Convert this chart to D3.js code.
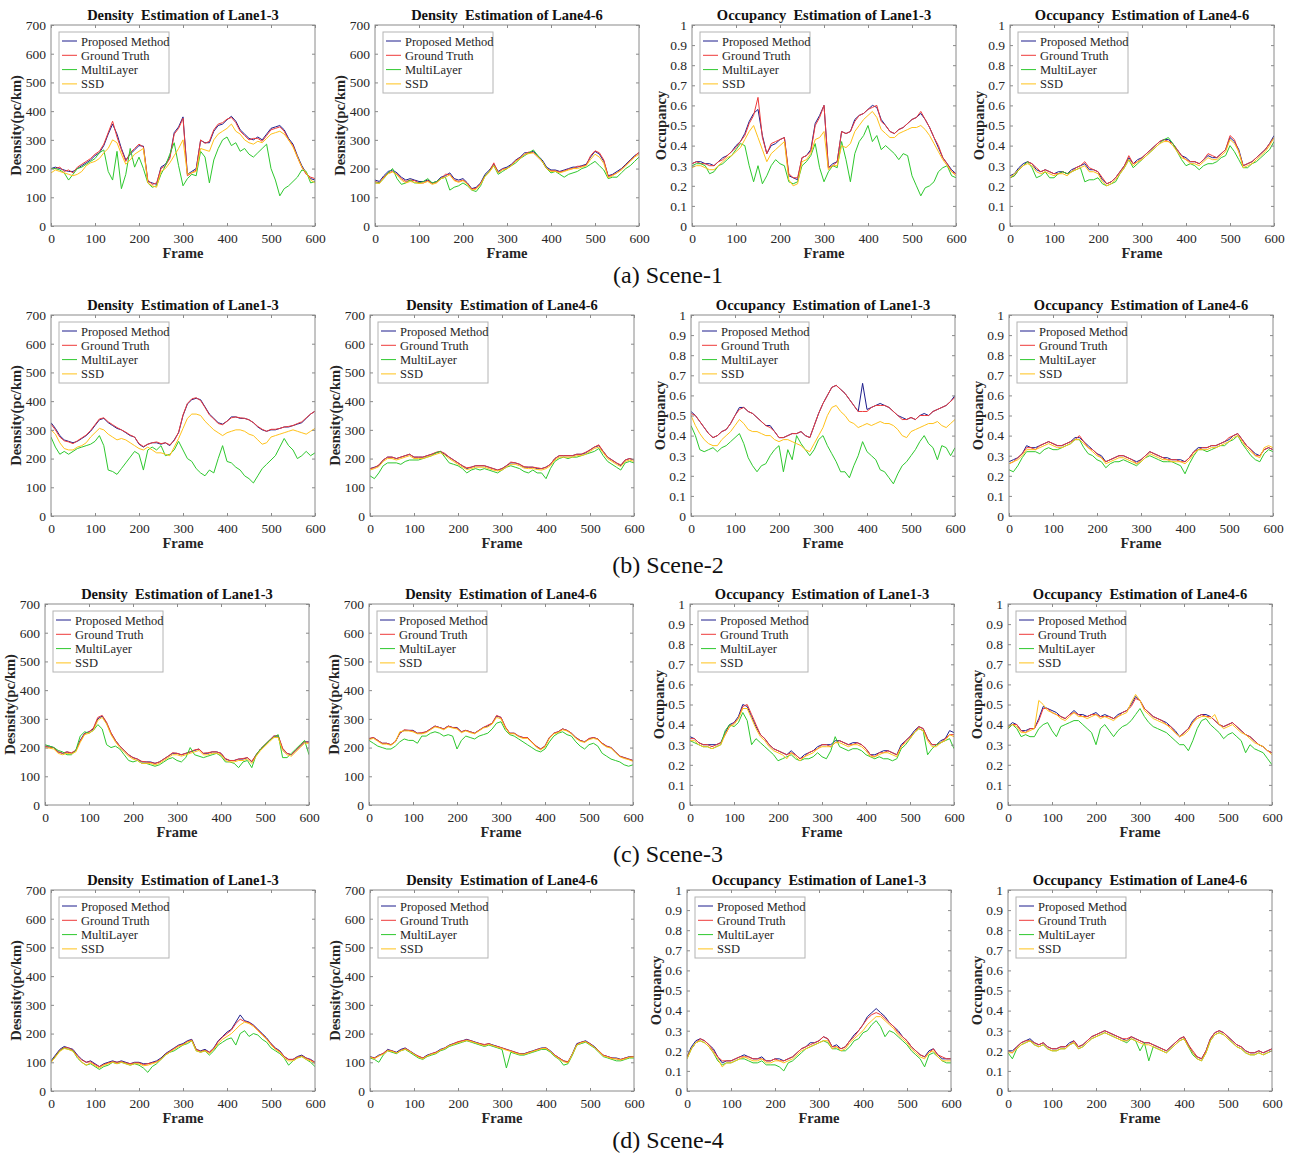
<!DOCTYPE html>
<html>
<head>
<meta charset="utf-8">
<script src="https://cdn.jsdelivr.net/npm/d3@7"></script>
<style>
body { margin: 0; background: #fff; }
text { font-family: "Liberation Serif", "Times New Roman", serif; }
</style>
</head>
<body>
<svg id="chart"></svg>
<script>
const WIDTH = 1293, HEIGHT = 1157;

// frame grid the values below were read at
const frames = d3.range(0, 601, 10);
const frameTicks = [0, 100, 200, 300, 400, 500, 600];
const densTicks = [0, 100, 200, 300, 400, 500, 600, 700];
const occTicks = [0, 0.1, 0.2, 0.3, 0.4, 0.5, 0.6, 0.7, 0.8, 0.9, 1];

const legendNames = ['Proposed Method', 'Ground Truth', 'MultiLayer', 'SSD'];
const titles = ['Density  Estimation of Lane1-3', 'Density  Estimation of Lane4-6',
                'Occupancy  Estimation of Lane1-3', 'Occupancy  Estimation of Lane4-6'];
const sceneLabels = ['(a) Scene-1', '(b) Scene-2', '(c) Scene-3', '(d) Scene-4'];

// ---- Scene-1 ----
const s1_d13_prop = [200,205,200,195,190,190,200,210,220,230, 245,255,280,320,355,320,270,230,250,265, 280,278,155,150,145,205,215,240,325,345, 380,180,190,200,298,290,290,330,350,355, 370,382,365,335,320,305,300,310,300,320, 340,345,350,335,305,285,245,210,185,165, 160];
const s1_d13_gt   = [200,200,205,190,195,185,205,215,225,235, 250,260,285,325,365,310,265,225,255,270, 285,275,160,145,150,200,210,235,320,340, 375,175,185,195,300,288,295,335,355,360, 372,378,360,330,315,300,305,305,295,315, 335,340,345,330,300,280,240,205,180,170, 165];
const s1_d13_ml   = [200,200,195,185,160,180,200,205,215,225, 235,255,265,190,160,260,130,180,270,205, 240,200,150,135,140,180,210,250,290,210, 140,165,180,175,260,240,150,230,270,300, 310,280,290,260,270,250,240,255,270,285, 200,160,105,130,140,155,170,195,190,150, 155];
const s1_d13_ssd  = [185,195,190,185,180,175,180,190,210,220, 225,235,255,270,300,290,250,215,230,250, 260,270,150,140,135,190,200,220,245,270, 300,180,185,190,270,265,260,300,320,330, 340,355,330,320,300,290,285,295,290,305, 320,325,330,320,300,275,240,205,185,160, 150];

const s1_d46_prop = [160,155,175,190,195,185,170,160,165,160, 155,155,160,150,155,170,175,185,165,160, 165,150,130,135,150,180,195,215,190,200, 205,215,230,240,255,255,260,245,230,205, 195,195,190,195,200,205,205,210,215,240, 260,250,225,175,180,190,200,215,230,245, 255];
const s1_d46_gt   = [155,150,170,185,190,180,165,155,160,158, 150,150,158,148,152,165,180,180,160,155, 160,148,128,132,148,175,190,220,185,198, 200,212,228,238,250,258,255,240,225,200, 192,192,188,192,198,200,208,208,212,245, 262,255,230,172,178,185,198,212,228,242, 258];
const s1_d46_ml   = [150,150,165,185,200,165,145,150,160,150, 150,155,165,150,155,165,170,125,135,140, 150,140,125,120,140,175,190,210,180,190, 200,210,220,235,245,255,265,245,225,200, 185,190,180,170,180,185,190,200,205,215, 225,210,195,165,170,170,185,200,210,225, 240];
const s1_d46_ssd  = [150,148,168,182,188,178,160,150,155,152, 148,150,155,145,150,165,170,178,158,152, 158,145,125,128,145,172,188,210,185,195, 200,210,225,235,250,252,255,242,225,200, 190,190,185,190,195,200,200,205,210,232, 250,240,218,168,175,185,195,210,225,240, 250];

const s1_o13_prop = [.31,.32,.32,.31,.31,.30,.32,.34,.35,.37, .40,.42,.46,.52,.56,.58,.45,.36,.40,.41, .43,.44,.25,.24,.23,.34,.35,.38,.51,.55, .60,.29,.31,.32,.47,.46,.47,.53,.55,.56, .58,.60,.59,.53,.50,.47,.46,.48,.49,.51, .53,.54,.56,.53,.49,.44,.39,.34,.31,.28, .26];
const s1_o13_gt   = [.31,.32,.31,.31,.30,.30,.32,.33,.35,.37, .39,.42,.45,.51,.55,.64,.44,.36,.41,.42, .43,.44,.26,.24,.24,.34,.35,.37,.50,.54, .60,.29,.30,.32,.47,.46,.47,.52,.55,.56, .58,.59,.60,.52,.50,.47,.46,.48,.49,.51, .53,.54,.57,.53,.49,.44,.40,.34,.31,.27, .26];
const s1_o13_ml   = [.30,.31,.31,.30,.26,.27,.30,.31,.33,.35, .38,.41,.40,.30,.22,.30,.21,.25,.30,.33, .31,.30,.22,.21,.22,.30,.32,.35,.41,.29, .22,.27,.30,.29,.42,.33,.22,.36,.42,.45, .50,.42,.45,.38,.40,.38,.36,.33,.36,.35, .25,.20,.15,.19,.20,.22,.27,.29,.30,.25, .24];
const s1_o13_ssd  = [.29,.30,.30,.29,.28,.28,.30,.32,.34,.35, .37,.39,.43,.47,.50,.44,.38,.32,.36,.38, .40,.42,.23,.20,.21,.32,.33,.36,.43,.44, .47,.28,.30,.30,.40,.39,.41,.47,.50,.53, .55,.57,.54,.48,.46,.44,.44,.46,.47,.48, .49,.49,.50,.48,.45,.41,.37,.33,.30,.27, .25];

const s1_o46_prop = [.25,.26,.29,.31,.32,.31,.28,.27,.28,.27, .26,.27,.27,.26,.28,.29,.30,.31,.28,.28, .27,.23,.21,.22,.24,.27,.30,.34,.31,.33, .34,.36,.38,.40,.42,.43,.43,.41,.38,.35, .34,.32,.32,.31,.33,.35,.34,.34,.36,.38, .44,.42,.38,.30,.31,.32,.34,.36,.38,.41, .45];
const s1_o46_gt   = [.24,.25,.28,.30,.32,.31,.29,.27,.28,.27, .26,.26,.27,.26,.27,.29,.30,.32,.29,.28, .27,.24,.21,.22,.24,.27,.30,.35,.31,.32, .34,.36,.38,.40,.42,.43,.42,.41,.38,.35, .33,.32,.32,.31,.33,.36,.35,.34,.36,.38, .45,.43,.37,.30,.31,.32,.34,.36,.38,.41, .44];
const s1_o46_ml   = [.24,.25,.28,.30,.32,.29,.24,.25,.27,.24, .24,.26,.27,.26,.27,.28,.29,.22,.23,.23, .24,.21,.20,.21,.22,.26,.29,.33,.29,.31, .33,.35,.37,.39,.41,.43,.44,.41,.37,.33, .30,.31,.30,.28,.30,.31,.31,.32,.34,.35, .40,.37,.33,.29,.29,.31,.32,.34,.36,.38, .42];
const s1_o46_ssd  = [.24,.26,.28,.30,.31,.30,.27,.26,.27,.26, .25,.26,.26,.25,.27,.28,.29,.30,.27,.27, .26,.22,.20,.21,.23,.26,.29,.33,.30,.32, .33,.35,.37,.39,.41,.42,.42,.40,.37,.34, .33,.31,.31,.30,.32,.34,.33,.33,.35,.37, .43,.41,.37,.29,.30,.31,.33,.35,.37,.40, .44];

// ---- Scene-2 ----
const s2_d13_prop = [325,305,280,265,260,255,260,270,280,295, 315,335,340,325,315,305,300,290,280,275, 250,240,250,255,255,250,255,245,265,290, 350,390,405,410,405,380,355,340,325,320, 330,345,345,340,340,335,325,310,300,295, 300,300,305,310,310,315,320,325,340,355, 365];
const s2_d13_gt   = [320,300,275,262,258,252,262,272,282,298, 318,338,342,328,318,308,300,292,282,275, 252,242,250,255,258,252,255,248,262,292, 352,392,408,412,402,378,352,338,322,318, 330,342,345,342,340,335,325,312,302,295, 302,302,305,310,312,315,322,328,342,355, 365];
const s2_d13_ml   = [275,240,215,225,215,225,235,240,245,250, 260,280,245,160,155,145,165,185,205,225, 215,160,230,240,230,245,210,215,230,260, 230,200,190,165,150,140,160,150,200,245, 190,185,170,160,140,130,115,140,165,180, 195,210,240,270,245,230,200,210,225,210, 220];
const s2_d13_ssd  = [300,285,255,235,230,230,240,245,255,275, 290,305,300,285,275,265,270,265,255,245, 235,230,240,230,220,220,215,210,240,270, 305,340,355,355,350,330,315,300,290,280, 290,295,300,300,295,285,280,265,250,255, 275,280,285,290,295,300,295,290,285,295, 305];

const s2_d46_prop = [165,170,175,195,205,205,200,205,210,215, 205,205,205,210,215,220,225,215,205,195, 185,175,165,170,175,175,175,170,165,160, 165,175,185,185,180,170,170,170,165,165, 170,180,200,210,210,210,210,215,215,220, 230,240,245,225,205,195,185,175,195,200, 195];
const s2_d46_gt   = [165,168,178,195,205,205,200,205,210,215, 205,205,205,210,215,222,225,218,205,195, 185,175,168,170,175,175,175,170,165,160, 165,175,188,185,180,172,170,170,168,165, 170,180,200,210,210,210,210,215,215,222, 230,240,248,225,205,195,185,178,195,200, 195];
const s2_d46_ml   = [140,130,150,175,185,185,185,180,190,195, 195,195,200,205,210,220,225,205,185,180, 175,165,150,160,165,160,165,160,155,150, 160,170,175,170,165,155,150,160,150,150, 130,165,190,200,205,200,205,205,210,215, 220,225,235,210,190,180,170,160,185,190, 185];
const s2_d46_ssd  = [160,165,172,190,200,200,195,200,205,210, 200,200,200,205,210,215,220,212,200,190, 180,170,162,165,170,170,170,165,160,157, 160,170,180,180,175,167,165,165,162,160, 165,175,195,205,205,205,205,210,210,215, 225,235,240,220,200,190,180,172,190,195, 190];

const s2_o13_prop = [.52,.50,.47,.44,.41,.39,.40,.42,.43,.46, .50,.54,.54,.52,.51,.49,.47,.45,.45,.42, .39,.39,.40,.41,.41,.42,.40,.39,.45,.51, .56,.60,.64,.65,.63,.61,.58,.55,.52,.66, .53,.54,.55,.56,.55,.54,.52,.50,.49,.48, .49,.48,.50,.51,.50,.52,.53,.54,.55,.57, .60];
const s2_o13_gt   = [.51,.50,.47,.44,.41,.39,.40,.42,.43,.46, .50,.53,.54,.52,.51,.49,.47,.45,.44,.42, .39,.39,.40,.41,.41,.42,.40,.39,.45,.51, .56,.60,.64,.65,.63,.61,.58,.55,.52,.52, .52,.54,.55,.55,.55,.54,.52,.50,.48,.48, .49,.48,.50,.50,.50,.52,.53,.54,.55,.57, .59];
const s2_o13_ml   = [.45,.40,.33,.32,.33,.34,.32,.34,.35,.37, .39,.41,.36,.29,.25,.22,.25,.26,.30,.33, .35,.22,.33,.28,.40,.36,.33,.30,.33,.38, .40,.35,.31,.27,.22,.22,.19,.25,.30,.37, .32,.30,.28,.23,.22,.19,.16,.21,.25,.27, .30,.33,.37,.40,.36,.34,.28,.35,.34,.30, .34];
const s2_o13_ssd  = [.50,.45,.41,.38,.36,.35,.35,.38,.40,.42, .45,.48,.46,.43,.42,.42,.41,.40,.40,.38, .37,.38,.38,.37,.36,.35,.33,.32,.36,.40, .44,.50,.54,.55,.52,.50,.47,.46,.44,.45, .46,.45,.46,.47,.46,.46,.45,.43,.40,.39, .42,.43,.44,.45,.46,.46,.47,.45,.44,.46, .48];

const s2_o46_prop = [.27,.28,.29,.31,.35,.34,.34,.35,.36,.37, .36,.35,.35,.36,.37,.39,.39,.37,.35,.33, .31,.30,.27,.28,.29,.30,.30,.29,.28,.27, .28,.30,.32,.31,.30,.29,.29,.28,.28,.28, .27,.29,.32,.34,.34,.34,.35,.35,.36,.37, .38,.40,.41,.38,.35,.33,.31,.30,.33,.34, .33];
const s2_o46_gt   = [.26,.27,.29,.31,.34,.34,.33,.35,.36,.37, .36,.35,.35,.36,.37,.38,.40,.37,.34,.33, .31,.29,.27,.28,.29,.30,.30,.29,.28,.26, .28,.30,.32,.31,.30,.29,.28,.28,.28,.27, .27,.29,.32,.33,.34,.34,.35,.35,.36,.37, .39,.40,.41,.38,.35,.33,.30,.30,.33,.34, .33];
const s2_o46_ml   = [.23,.22,.25,.29,.32,.32,.32,.31,.33,.34, .33,.33,.34,.35,.36,.38,.38,.34,.31,.30, .28,.27,.24,.26,.27,.27,.28,.27,.26,.25, .27,.29,.30,.29,.28,.27,.27,.27,.26,.25, .21,.26,.30,.33,.33,.32,.33,.34,.35,.35, .37,.38,.40,.36,.33,.30,.28,.27,.31,.33, .32];
const s2_o46_ssd  = [.26,.27,.28,.30,.33,.33,.33,.34,.35,.36, .35,.34,.34,.35,.36,.38,.38,.36,.34,.32, .30,.29,.26,.27,.28,.29,.29,.28,.27,.26, .27,.29,.31,.30,.29,.28,.28,.27,.27,.27, .26,.28,.31,.33,.33,.33,.34,.34,.35,.36, .37,.39,.40,.37,.34,.32,.30,.29,.34,.35, .34];

// ---- Scene-3 ----
const s3_d13_prop = [205,205,200,185,180,185,180,190,225,250, 255,265,300,310,285,250,225,205,190,175, 165,160,150,150,150,145,150,160,170,180, 180,175,180,185,190,195,180,180,185,185, 180,160,155,155,160,160,165,150,175,195, 210,225,240,240,195,180,175,190,205,220, 220];
const s3_d13_gt   = [205,200,200,185,180,185,182,190,222,248, 255,268,305,312,288,252,225,205,190,175, 165,160,152,150,148,145,150,160,170,182, 180,175,180,185,192,195,180,182,185,185, 180,162,155,155,160,162,165,152,175,195, 210,225,240,242,198,180,175,190,205,220, 218];
const s3_d13_ml   = [210,205,200,190,185,175,175,190,240,255, 250,260,280,265,210,200,205,195,175,155, 150,155,145,145,140,135,140,150,160,165, 155,150,165,200,175,170,165,170,175,180, 170,150,150,145,130,150,155,130,175,195, 210,225,235,245,165,165,180,195,210,225, 175];
const s3_d13_ssd  = [200,198,195,180,175,180,178,185,218,245, 250,260,295,305,282,245,220,200,185,170, 160,155,145,145,145,140,145,155,165,175, 175,170,175,180,185,190,175,175,180,180, 175,155,150,150,155,155,160,145,170,190, 205,220,235,235,190,175,170,185,200,215, 215];

const s3_d46_prop = [230,235,225,215,215,210,220,250,260,260, 260,250,250,255,265,275,270,265,275,270, 270,255,260,255,250,260,270,275,285,310, 305,270,250,250,240,235,235,220,205,195, 205,235,250,255,265,260,250,235,225,220, 230,235,230,215,205,200,185,170,165,160, 155];
const s3_d46_gt   = [232,235,225,215,215,210,222,250,262,260, 258,250,252,255,265,275,270,265,275,270, 268,255,260,255,250,260,270,278,285,312, 305,272,250,250,240,235,235,220,205,195, 205,235,250,255,265,260,250,235,225,220, 232,235,230,215,205,200,185,170,165,160, 155];
const s3_d46_ml   = [225,215,205,200,195,195,205,220,230,225, 225,215,240,240,250,255,250,240,245,240, 195,225,240,235,230,240,245,250,265,285, 290,260,245,240,230,220,210,200,190,185, 195,220,240,250,255,245,240,220,205,195, 210,215,205,180,170,160,155,150,140,135, 140];
const s3_d46_ssd  = [228,232,222,212,212,208,220,255,258,258, 255,248,248,252,262,272,268,262,272,268, 265,252,258,252,248,258,268,272,282,305, 300,268,248,248,238,232,232,218,202,192, 202,232,248,252,262,258,248,232,222,218, 228,232,228,212,202,198,182,168,162,158, 152];

const s3_o13_prop = [.34,.33,.31,.30,.30,.30,.30,.31,.36,.40, .41,.44,.50,.49,.44,.39,.35,.33,.30,.28, .27,.26,.25,.27,.25,.23,.25,.26,.27,.29, .30,.30,.30,.32,.32,.31,.30,.31,.31,.30, .28,.25,.25,.26,.27,.27,.26,.25,.30,.32, .34,.37,.39,.38,.33,.30,.30,.32,.33,.37, .36];
const s3_o13_gt   = [.33,.33,.31,.30,.30,.29,.30,.31,.35,.39, .41,.43,.49,.50,.45,.40,.35,.33,.30,.28, .27,.26,.25,.26,.25,.23,.24,.26,.27,.28, .30,.30,.29,.31,.32,.31,.30,.30,.31,.30, .28,.25,.24,.26,.26,.27,.26,.25,.29,.32, .34,.36,.39,.38,.33,.30,.30,.31,.33,.35, .35];
const s3_o13_ml   = [.32,.31,.30,.29,.29,.28,.29,.30,.37,.40, .39,.41,.46,.42,.30,.33,.31,.29,.27,.25, .22,.23,.24,.25,.23,.22,.23,.23,.24,.26, .24,.23,.27,.34,.29,.28,.27,.28,.28,.27, .25,.24,.23,.24,.23,.23,.22,.23,.28,.30, .33,.36,.38,.37,.25,.28,.30,.31,.32,.33, .28];
const s3_o13_ssd  = [.32,.32,.30,.29,.29,.28,.29,.30,.35,.39, .40,.43,.48,.48,.43,.38,.34,.32,.29,.27, .26,.25,.23,.26,.24,.22,.24,.25,.26,.28, .29,.29,.29,.31,.31,.30,.29,.30,.30,.29, .27,.24,.24,.25,.26,.26,.25,.24,.29,.31, .33,.36,.38,.37,.32,.29,.29,.31,.32,.35, .34];

const s3_o46_prop = [.39,.41,.40,.37,.37,.38,.38,.43,.49,.48, .47,.46,.44,.43,.45,.47,.45,.45,.44,.45, .46,.44,.45,.44,.43,.45,.46,.47,.50,.54, .52,.48,.46,.44,.43,.42,.41,.39,.37,.34, .36,.38,.42,.44,.45,.45,.44,.42,.40,.39, .40,.41,.39,.37,.35,.34,.32,.30,.29,.27, .26];
const s3_o46_gt   = [.38,.40,.40,.37,.36,.38,.38,.42,.48,.48, .46,.45,.44,.43,.45,.46,.45,.44,.44,.45, .45,.44,.44,.44,.43,.44,.46,.47,.49,.53, .52,.48,.46,.44,.43,.42,.40,.39,.36,.34, .36,.38,.41,.44,.45,.44,.44,.42,.40,.39, .40,.41,.39,.37,.35,.34,.32,.30,.29,.27, .26];
const s3_o46_ml   = [.38,.40,.38,.34,.35,.34,.34,.38,.40,.41, .37,.34,.39,.40,.41,.42,.42,.40,.38,.36, .30,.38,.40,.37,.34,.37,.39,.40,.42,.45, .48,.44,.41,.39,.38,.37,.36,.34,.32,.30, .30,.27,.32,.38,.42,.43,.40,.38,.36,.33, .35,.36,.34,.32,.26,.30,.28,.27,.26,.23, .20];
const s3_o46_ssd  = [.39,.40,.39,.36,.36,.37,.38,.52,.50,.47, .46,.45,.43,.42,.44,.46,.44,.44,.43,.44, .45,.43,.44,.43,.42,.44,.45,.46,.51,.55, .52,.47,.45,.43,.42,.41,.40,.38,.36,.34, .35,.37,.41,.43,.44,.44,.43,.45,.40,.38, .39,.40,.38,.36,.35,.33,.31,.30,.29,.27, .25];

// ---- Scene-4 ----
const s4_d13_prop = [105,125,145,155,150,145,125,110,100,105, 95,85,95,100,105,100,105,100,95,100, 100,95,95,100,105,115,130,140,150,160, 165,175,180,145,140,145,135,150,175,190, 205,215,240,265,245,240,230,215,200,185, 165,150,140,120,110,110,120,125,115,110, 100];
const s4_d13_gt   = [100,122,142,152,150,142,122,108,100,102, 92,85,92,98,102,100,102,98,95,98, 98,92,95,98,102,112,128,138,148,158, 162,172,178,145,138,142,135,148,172,188, 200,212,235,250,242,238,228,212,198,182, 165,148,138,120,110,110,118,122,115,108, 100];
const s4_d13_ml   = [100,120,140,150,145,140,115,100,90,95, 85,75,85,90,100,95,100,95,90,95, 90,80,65,85,95,110,125,135,140,150, 160,165,175,140,135,140,125,140,160,170, 180,185,160,200,210,190,200,195,180,170, 150,140,130,115,90,105,115,120,110,100, 85];
const s4_d13_ssd  = [100,118,138,148,145,138,118,100,90,98, 88,80,90,95,100,95,100,95,90,95, 95,88,90,95,100,110,125,135,145,155, 160,170,175,140,135,140,130,145,165,180, 190,200,215,230,240,235,225,210,195,180, 160,145,135,115,105,105,115,120,110,105, 95];

const s4_d46_prop = [120,115,125,130,145,140,135,145,150,140, 130,120,115,125,130,135,145,150,160,165, 170,175,180,175,170,165,160,165,160,155, 150,145,140,135,130,130,135,140,145,150, 150,140,125,115,105,100,130,165,170,175, 165,155,140,125,120,115,115,110,115,120, 120];
const s4_d46_gt   = [118,115,122,132,142,140,132,142,148,140, 128,122,115,122,130,135,142,150,158,165, 172,175,178,175,168,165,162,165,158,155, 150,145,140,135,130,128,135,138,145,148, 150,138,125,115,105,102,128,162,170,172, 165,152,140,125,120,115,112,110,115,118, 120];
const s4_d46_ml   = [115,110,100,125,140,135,130,140,145,135, 125,115,110,120,125,130,140,145,155,160, 165,170,175,170,165,160,155,160,155,150, 145,80,135,130,125,125,130,135,140,145, 145,135,120,110,90,95,125,160,165,170, 160,150,135,120,115,110,105,105,110,115, 115];
const s4_d46_ssd  = [118,112,122,128,140,138,132,140,146,138, 128,118,112,122,128,132,142,148,158,162, 168,172,176,172,168,162,158,162,158,152, 148,142,138,132,128,128,132,138,142,148, 148,138,122,112,102,98,128,160,168,172, 162,152,138,122,118,112,112,108,112,118, 118];

const s4_o13_prop = [.17,.22,.25,.26,.25,.23,.21,.17,.14,.15, .15,.16,.17,.18,.17,.16,.16,.17,.15,.15, .16,.16,.15,.16,.17,.19,.21,.22,.24,.24, .25,.27,.26,.22,.23,.21,.22,.25,.28,.30, .33,.37,.39,.41,.39,.37,.34,.32,.30,.27, .25,.22,.20,.18,.17,.20,.21,.18,.16,.16, .16];
const s4_o13_gt   = [.17,.21,.24,.26,.25,.23,.20,.17,.15,.15, .15,.16,.17,.17,.17,.16,.16,.16,.15,.15, .16,.15,.15,.16,.17,.19,.21,.22,.23,.24, .25,.27,.26,.22,.22,.21,.22,.25,.27,.30, .33,.36,.38,.39,.38,.36,.34,.32,.29,.27, .25,.22,.20,.18,.17,.19,.21,.18,.17,.16, .16];
const s4_o13_ml   = [.16,.21,.24,.25,.24,.22,.19,.15,.13,.14, .14,.15,.16,.16,.15,.14,.14,.15,.13,.13, .13,.12,.10,.14,.15,.17,.19,.21,.22,.23, .24,.25,.24,.21,.21,.20,.20,.22,.25,.26, .29,.30,.33,.35,.32,.27,.30,.29,.27,.25, .23,.20,.18,.16,.12,.18,.19,.17,.15,.14, .14];
const s4_o13_ssd  = [.16,.21,.24,.25,.24,.22,.19,.16,.12,.14, .14,.15,.16,.17,.16,.15,.15,.16,.14,.14, .15,.15,.14,.15,.16,.18,.20,.21,.22,.23, .24,.25,.25,.21,.22,.20,.21,.24,.26,.28, .30,.33,.35,.37,.37,.35,.33,.31,.28,.26, .24,.21,.19,.17,.16,.19,.20,.17,.15,.15, .15];

const s4_o46_prop = [.20,.20,.22,.24,.25,.26,.24,.23,.24,.22, .21,.21,.22,.22,.24,.25,.22,.23,.25,.27, .28,.29,.30,.29,.28,.27,.26,.25,.27,.26, .25,.24,.24,.23,.22,.21,.20,.22,.24,.26, .27,.23,.19,.17,.16,.20,.26,.29,.30,.29, .27,.25,.23,.22,.20,.19,.19,.20,.19,.20, .21];
const s4_o46_gt   = [.20,.19,.22,.24,.25,.25,.24,.23,.24,.22, .21,.21,.22,.22,.23,.25,.22,.23,.25,.27, .28,.29,.30,.29,.28,.27,.26,.26,.27,.26, .25,.24,.24,.23,.22,.21,.20,.22,.24,.26, .27,.23,.20,.17,.16,.20,.26,.29,.30,.29, .27,.25,.23,.22,.20,.19,.19,.20,.19,.20, .21];
const s4_o46_ml   = [.19,.16,.21,.23,.24,.25,.23,.22,.23,.21, .20,.20,.21,.21,.23,.24,.21,.22,.24,.26, .27,.28,.29,.28,.27,.26,.25,.24,.26,.25, .20,.24,.15,.22,.21,.20,.19,.21,.23,.25, .26,.22,.18,.16,.15,.19,.25,.28,.29,.28, .26,.24,.22,.21,.19,.18,.18,.19,.18,.19, .20];
const s4_o46_ssd  = [.19,.19,.21,.23,.24,.25,.23,.22,.23,.21, .20,.20,.21,.21,.23,.24,.21,.22,.24,.26, .27,.28,.29,.28,.27,.26,.25,.25,.26,.25, .24,.23,.23,.22,.21,.20,.19,.21,.23,.25, .26,.22,.19,.16,.15,.19,.25,.28,.29,.28, .26,.24,.22,.21,.19,.18,.18,.19,.18,.19, .20];

// rows = scenes, columns = panels; each panel lists its series in legend order
const panelSeries = [
    [[s1_d13_prop, s1_d13_gt, s1_d13_ml, s1_d13_ssd], [s1_d46_prop, s1_d46_gt, s1_d46_ml, s1_d46_ssd],
     [s1_o13_prop, s1_o13_gt, s1_o13_ml, s1_o13_ssd], [s1_o46_prop, s1_o46_gt, s1_o46_ml, s1_o46_ssd]],
    [[s2_d13_prop, s2_d13_gt, s2_d13_ml, s2_d13_ssd], [s2_d46_prop, s2_d46_gt, s2_d46_ml, s2_d46_ssd],
     [s2_o13_prop, s2_o13_gt, s2_o13_ml, s2_o13_ssd], [s2_o46_prop, s2_o46_gt, s2_o46_ml, s2_o46_ssd]],
    [[s3_d13_prop, s3_d13_gt, s3_d13_ml, s3_d13_ssd], [s3_d46_prop, s3_d46_gt, s3_d46_ml, s3_d46_ssd],
     [s3_o13_prop, s3_o13_gt, s3_o13_ml, s3_o13_ssd], [s3_o46_prop, s3_o46_gt, s3_o46_ml, s3_o46_ssd]],
    [[s4_d13_prop, s4_d13_gt, s4_d13_ml, s4_d13_ssd], [s4_d46_prop, s4_d46_gt, s4_d46_ml, s4_d46_ssd],
     [s4_o13_prop, s4_o13_gt, s4_o13_ml, s4_o13_ssd], [s4_o46_prop, s4_o46_gt, s4_o46_ml, s4_o46_ssd]]
];

// layout
const lineColors = ['#1d1d8c', '#ee3a3a', '#2ec82e', '#ffc21a'];
const rowTop = [25, 315, 604, 890];
const colLeft = [[51, 375, 692, 1010], [51, 370, 691, 1009], [45, 369, 690, 1008], [51, 370, 687, 1008]];
const PW = 264, PH = 201;
const AXIS_GRAY = '#8a8a8a';
const TEXT_COLOR = '#262626';

let svg = d3.select('#chart')
    .attr('width', WIDTH)
    .attr('height', HEIGHT);

svg.append('rect').attr('width', WIDTH).attr('height', HEIGHT).attr('fill', '#fff');

panelSeries.forEach((row, r) => {
    row.forEach((series, c) => drawPanel(r, c, series));
    svg.append('text')
        .attr('x', 668)
        .attr('y', rowTop[r] + 258)
        .attr('text-anchor', 'middle')
        .attr('font-size', 24)
        .attr('fill', '#111')
        .text(sceneLabels[r]);
});

// one subplot
function drawPanel(r, c, series){
    const isDensity = c < 2;
    const g = svg.append('g')
        .attr('transform', `translate(${colLeft[r][c]},${rowTop[r]})`);

    const x = d3.scaleLinear().domain([0, 600]).range([0, PW]);
    const y = d3.scaleLinear().domain(isDensity ? [0, 700] : [0, 1]).range([PH, 0]);

    const clipId = `clip-${r}-${c}`;
    g.append('clipPath').attr('id', clipId)
        .append('rect').attr('width', PW).attr('height', PH);

    const line = d3.line()
        .x((d, i) => x(frames[i]))
        .y((d) => y(d));

    g.append('g')
        .attr('clip-path', `url(#${clipId})`)
        .selectAll('path')
        .data(series)
        .enter()
        .append('path')
            .attr('d', line)
            .attr('fill', 'none')
            .attr('stroke', (d, i) => lineColors[i])
            .attr('stroke-width', 1)
            .attr('stroke-linejoin', 'round');

    const yFormat = isDensity ? d3.format('d') : (d) => (d === 0 || d === 1) ? String(d) : d3.format('.1f')(d);
    const yTicks = isDensity ? densTicks : occTicks;

    // axes, ticks pointing inward on all four sides
    const bottom = g.append('g').attr('transform', `translate(0,${PH})`)
        .call(d3.axisBottom(x).tickValues(frameTicks).tickSize(-3).tickPadding(7));
    const left = g.append('g')
        .call(d3.axisLeft(y).tickValues(yTicks).tickFormat(yFormat).tickSize(-3).tickPadding(5));
    const top = g.append('g')
        .call(d3.axisTop(x).tickValues(frameTicks).tickSize(-3).tickFormat(() => ''));
    const right = g.append('g').attr('transform', `translate(${PW},0)`)
        .call(d3.axisRight(y).tickValues(yTicks).tickSize(-3).tickFormat(() => ''));

    for(const a of [bottom, left, top, right]){
        a.select('.domain').remove();
        a.selectAll('line').attr('stroke', AXIS_GRAY);
        a.selectAll('text')
            .attr('fill', TEXT_COLOR)
            .attr('font-size', 13.5)
            .attr('font-family', '"Liberation Serif", serif');
    }

    g.append('rect')
        .attr('width', PW).attr('height', PH)
        .attr('fill', 'none')
        .attr('stroke', AXIS_GRAY)
        .attr('stroke-width', 1);

    // title
    g.append('text')
        .attr('x', PW / 2).attr('y', -5)
        .attr('text-anchor', 'middle')
        .attr('font-size', 14.5)
        .attr('font-weight', 'bold')
        .attr('fill', '#111')
        .style('white-space', 'pre')
        .text(titles[c]);

    // axis labels
    g.append('text')
        .attr('x', PW / 2).attr('y', PH + 32)
        .attr('text-anchor', 'middle')
        .attr('font-size', 14.5)
        .attr('font-weight', 'bold')
        .attr('fill', TEXT_COLOR)
        .text('Frame');
    g.append('text')
        .attr('transform', `translate(${isDensity ? -30 : -26},${PH / 2}) rotate(-90)`)
        .attr('text-anchor', 'middle')
        .attr('font-size', 14.5)
        .attr('font-weight', 'bold')
        .attr('fill', TEXT_COLOR)
        .text(isDensity ? 'Desnsity(pc/km)' : 'Occupancy');

    // legend
    const lg = g.append('g').attr('transform', 'translate(8,7)');
    lg.append('rect')
        .attr('width', 110).attr('height', 61)
        .attr('fill', '#fff')
        .attr('stroke', '#b4b4b4')
        .attr('stroke-width', 1);
    const item = lg.selectAll('g.item')
        .data(legendNames)
        .enter()
        .append('g')
            .attr('transform', (d, i) => `translate(0,${9 + i * 14.3})`);
    item.append('line')
        .attr('x1', 3).attr('x2', 18)
        .attr('stroke', (d, i) => lineColors[i])
        .attr('stroke-width', 1);
    item.append('text')
        .attr('x', 22).attr('y', 4.5)
        .attr('font-size', 12.5)
        .attr('fill', TEXT_COLOR)
        .text((d) => d);
}
</script>
</body>
</html>
